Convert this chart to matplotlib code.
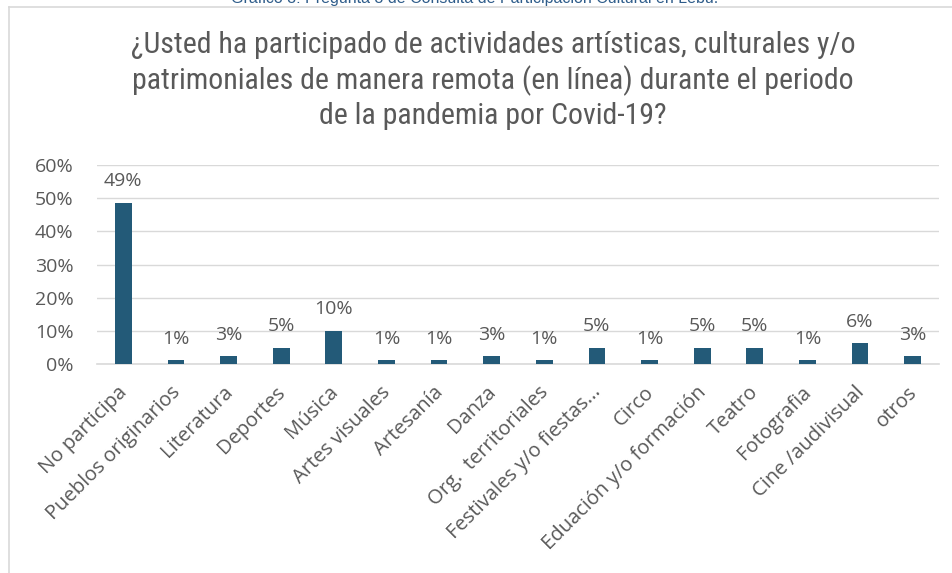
import matplotlib
matplotlib.use("Agg")
import matplotlib.pyplot as plt
from matplotlib.lines import Line2D
import matplotlib.transforms as mtransforms
import numpy as np

categories = ["No participa", "Pueblos originarios", "Literatura", "Deportes", "Música",
              "Artes visuales", "Artesanía", "Danza", "Org.  territoriales",
              "Festivales y/o fiestas...", "Circo", "Eduación y/o formación", "Teatro",
              "Fotografia", "Cine /audivisual", "otros"]
values = [0.486, 0.011, 0.024, 0.049, 0.10, 0.011, 0.011, 0.024, 0.011, 0.049, 0.011,
          0.049, 0.049, 0.011, 0.062, 0.024]
value_labels = ["49%", "1%", "3%", "5%", "10%", "1%", "1%", "3%", "1%", "5%", "1%",
                "5%", "5%", "1%", "6%", "3%"]
yticks = [0, 0.1, 0.2, 0.3, 0.4, 0.5, 0.6]
ytick_labels = ["0%", "10%", "20%", "30%", "40%", "50%", "60%"]

title = ("¿Usted ha participado de actividades artísticas, culturales y/o\n"
         "patrimoniales de manera remota (en línea) durante el periodo\n"
         "de la pandemia por Covid-19?")
caption = "Gráfico 3: Pregunta 3 de Consulta de Participación Cultural en Lebu."

W, H = 953, 573
fig = plt.figure(figsize=(W / 100, H / 100), dpi=100)
fig.patch.set_facecolor("white")

label_font = ["Open Sans", "DejaVu Sans"]
title_font = ["Liberation Sans Narrow", "Roboto Condensed", "Liberation Sans", "DejaVu Sans"]
gray = "#595959"

# frame of chart area (left and top visible)
fig.add_artist(Line2D([9 / W, 9 / W], [0, 1 - 7 / H], transform=fig.transFigure,
                      color="#d9d9d9", lw=1.2))
fig.add_artist(Line2D([9 / W, 1], [1 - 7 / H, 1 - 7 / H], transform=fig.transFigure,
                      color="#d9d9d9", lw=1.2))

# partially cut caption
fig.text(475 / W, 1 - 3 / H, caption, ha="center", va="baseline", fontsize=11.5,
         color="#2e5c8a", family=["Liberation Sans", "DejaVu Sans"])

fig.text(493 / W, 1 - 31 / H, title, ha="center", va="top", fontsize=21.5,
         color=gray, family=title_font, linespacing=1.27)

ax_left, ax_right = 97, 939
ax_top, ax_bottom = 165, 364
ax = fig.add_axes([ax_left / W, 1 - ax_bottom / H, (ax_right - ax_left) / W,
                   (ax_bottom - ax_top) / H])

x = np.arange(len(categories))
ax.bar(x, values, width=0.32, color="#235a78", zorder=3)
ax.set_xlim(-0.5, len(categories) - 0.5)
ax.set_ylim(0, 0.6)
ax.set_yticks(yticks)
ax.set_yticklabels(ytick_labels, family=label_font, fontsize=14, color=gray)
ax.yaxis.grid(True, color="#d9d9d9", lw=1, zorder=0)
ax.tick_params(axis="y", length=0, pad=17)
ax.tick_params(axis="x", length=0, pad=13)
ax.set_xticks(x)
ax.set_xticklabels(categories, rotation=45, ha="right", rotation_mode="anchor",
                   family=label_font, fontsize=14.5, color=gray)
shift = mtransforms.ScaledTranslation(-6 / 100, 0, fig.dpi_scale_trans)
for lbl in ax.get_xticklabels():
    lbl.set_transform(lbl.get_transform() + shift)
for s in ["top", "right", "left"]:
    ax.spines[s].set_visible(False)
ax.spines["bottom"].set_color("#d9d9d9")
ax.spines["bottom"].set_linewidth(1.2)

for xi, v, lab in zip(x, values, value_labels):
    ax.annotate(lab, (xi, v), xytext=(0, 9), textcoords="offset points",
                ha="center", va="bottom", family=label_font, fontsize=14, color=gray)

fig.savefig("out.png", dpi=100, facecolor="white")
